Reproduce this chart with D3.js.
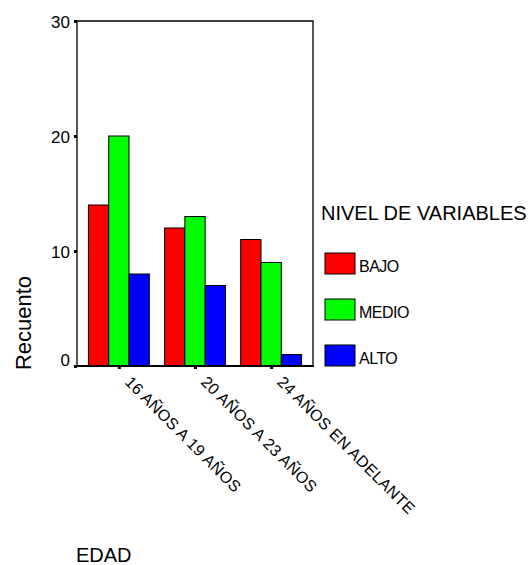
<!DOCTYPE html>
<html>
<head>
<meta charset="utf-8">
<script src="https://cdn.jsdelivr.net/npm/d3@7"></script>
<style>
  body { margin: 0; background: #fff; }
  text { font-family: "Liberation Sans", Arial, sans-serif; fill: #000; }
</style>
</head>
<body>
<svg id="chart" width="531" height="565"></svg>
<script>
var edades = ["16 AÑOS A 19 AÑOS", "20 AÑOS A 23 AÑOS", "24 AÑOS EN ADELANTE"];
var niveles = ["BAJO", "MEDIO", "ALTO"];
var colores = ["#ff0000", "#00ff00", "#0000ff"];
var bajo = [14, 12, 11];
var medio = [20, 13, 9];
var alto = [8, 7, 1];
var yTicks = [0, 10, 20, 30];

var series = [bajo, medio, alto];

var plotLeft = 77, plotRight = 313, plotTop = 21, plotBottom = 366;

var svg = d3.select("#chart");

var x = d3.scaleBand().domain(edades).range([plotLeft, plotRight])
  .paddingInner(0.2).paddingOuter(0.15);
var xInner = d3.scaleBand().domain(niveles).range([0, x.bandwidth()]);
var y = d3.scaleLinear().domain([0, 30]).range([plotBottom, plotTop]);

// bars
var groups = svg.append("g").selectAll("g")
  .data(edades)
  .enter().append("g")
  .attr("transform", function(d) { return "translate(" + x(d) + ",0)"; });

groups.selectAll("rect")
  .data(function(d, i) { return niveles.map(function(n, j) { return {nivel: n, value: series[j][i], idx: j}; }); })
  .enter().append("rect")
  .attr("x", function(d) { return xInner(d.nivel); })
  .attr("y", function(d) { return y(d.value); })
  .attr("width", xInner.bandwidth())
  .attr("height", function(d) { return plotBottom - y(d.value); })
  .style("fill", function(d) { return colores[d.idx]; })
  .style("stroke", "#000")
  .style("stroke-width", 1);

// frame (left, top, right)
svg.append("path")
  .attr("d", "M" + plotLeft + "," + plotBottom + "V" + plotTop + "H" + plotRight + "V" + plotBottom)
  .style("fill", "none").style("stroke", "#000").style("stroke-width", 1.3);

// y axis ticks + labels
var yAxis = svg.append("g");
yAxis.selectAll("rect")
  .data(yTicks).enter().append("rect")
  .attr("x", plotLeft - 3).attr("y", function(d) { return y(d) - 1; })
  .attr("width", 3).attr("height", 3).style("fill", "#000");
yAxis.selectAll("text")
  .data(yTicks).enter().append("text")
  .attr("x", plotLeft - 7)
  .attr("y", function(d) { return y(d) + (d === 0 ? -6 : 1); })
  .attr("text-anchor", "end").attr("dy", "0.35em")
  .style("font-size", "17px")
  .text(function(d) { return d; });

// x axis line
svg.append("line")
  .attr("x1", plotLeft - 1).attr("x2", plotRight + 1)
  .attr("y1", plotBottom).attr("y2", plotBottom)
  .style("stroke", "#000").style("stroke-width", 2);

var xAxis = svg.append("g");
xAxis.selectAll("rect")
  .data(edades).enter().append("rect")
  .attr("x", function(d) { return x(d) + x.bandwidth() / 2 - 1; })
  .attr("y", plotBottom).attr("width", 3).attr("height", 3)
  .style("fill", "#000");
xAxis.selectAll("text")
  .data(edades).enter().append("text")
  .attr("transform", function(d) {
    return "translate(" + (x(d) + x.bandwidth() / 2 + 9) + "," + (plotBottom + 13) + ") rotate(45)";
  })
  .attr("text-anchor", "start").attr("dy", "0.35em")
  .style("font-size", "16px")
  .style("letter-spacing", "0.3px")
  .text(function(d) { return d; });

// axis titles
svg.append("text")
  .attr("transform", "translate(31,323) rotate(-90)")
  .attr("text-anchor", "middle")
  .style("font-size", "22px")
  .text("Recuento");

svg.append("text")
  .attr("x", 76).attr("y", 562)
  .style("font-size", "20px")
  .text("EDAD");

// legend
var legend = svg.append("g");
legend.append("text")
  .attr("x", 321).attr("y", 220)
  .style("font-size", "20px")
  .text("NIVEL DE VARIABLES");

var item = legend.selectAll("g.item")
  .data(niveles).enter().append("g")
  .attr("transform", function(d, i) { return "translate(325," + (253 + i * 46) + ")"; });
item.append("rect")
  .attr("width", 30).attr("height", 21)
  .style("fill", function(d, i) { return colores[i]; })
  .style("stroke", "#000").style("stroke-width", 1);
item.append("text")
  .attr("x", 34).attr("y", 19)
  .style("font-size", "16px")
  .style("letter-spacing", "-0.5px")
  .text(function(d) { return d; });
</script>
</body>
</html>
